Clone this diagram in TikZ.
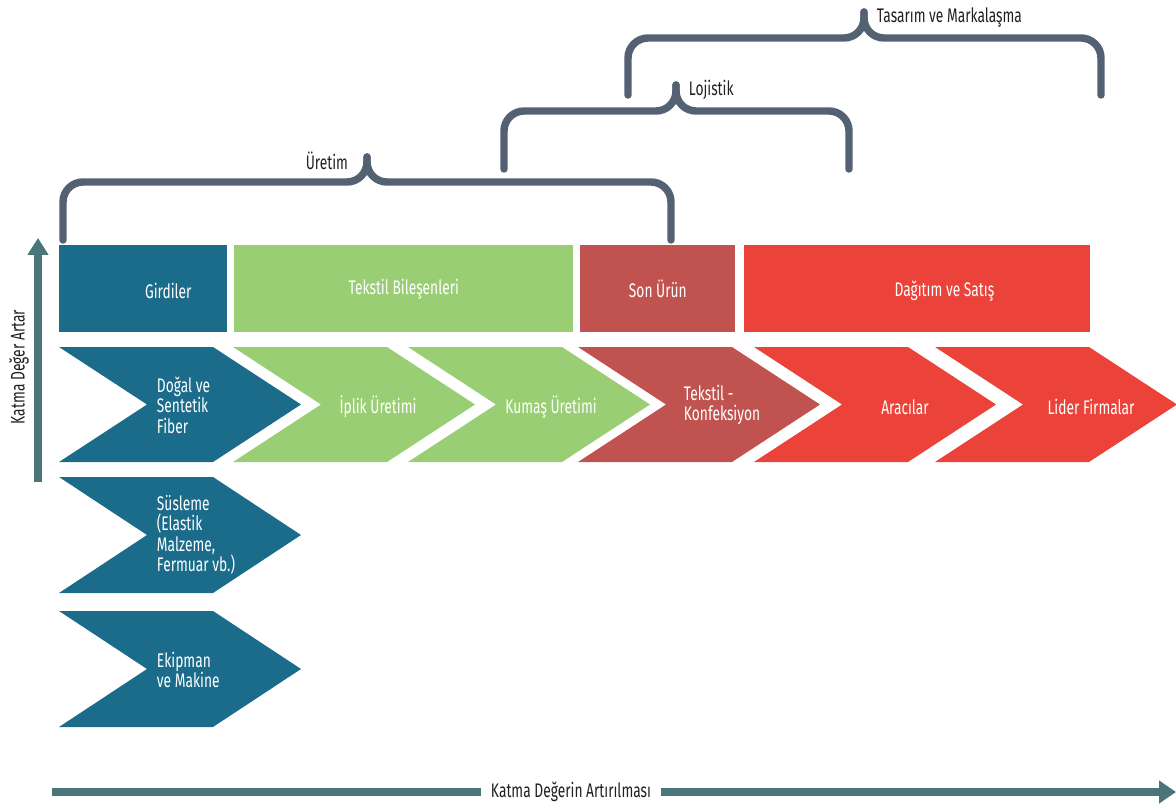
\documentclass[tikz,border=0pt]{standalone}
\usepackage{fontspec}
\setmainfont{Fira Sans}[FakeStretch=0.7]
\usepackage{xcolor}
\usepackage{tikz}
\usetikzlibrary{positioning,arrows.meta}

\definecolor{inputblue}{HTML}{1A6C8A}
\definecolor{compgreen}{HTML}{99CE74}
\definecolor{productred}{HTML}{C0534F}
\definecolor{salesred}{HTML}{EB4339}
\definecolor{braceslate}{HTML}{536173}
\definecolor{axisteal}{HTML}{4A767A}
\definecolor{labeldark}{HTML}{231F20}

\begin{document}
\begin{tikzpicture}[
    x=0.025cm,
    y=-0.025cm,
    node distance=0.16cm,
    font=\fontsize{14}{14.5}\selectfont,
    box/.style={
        anchor=north west,
        inner sep=0pt,
        minimum height=2.175cm,
        text=white
    },
    boxtext/.style={
        text=white
    },
    chevtext/.style={
        text=white,
        align=left
    },
    bracetext/.style={
        text=labeldark
    },
    brace/.style={
        draw=braceslate,
        line width=5.3pt,
        rounded corners=0.5cm,
        line cap=round
    },
    axis/.style={
        draw=axisteal,
        line width=6.2pt
    }
]

\useasboundingbox (0,0) rectangle (1176,808);

% stage boxes
\node[box, fill=inputblue, minimum width=4.2cm,
    label={[boxtext, xshift=0.625cm, yshift=-0.05cm]center:Girdiler}] (girdiler) at (59,245) {};

\node[box, fill=compgreen, minimum width=8.475cm, right=of girdiler] (bilesen) {Tekstil Bileşenleri};

\node[box, fill=productred, minimum width=3.875cm, right=of bilesen] (sonurun) {Son Ürün};

\node[box, fill=salesred, minimum width=8.65cm, right=0.21cm of sonurun,
    label={[boxtext, xshift=0.675cm, yshift=-0.05cm]center:Dağıtım ve Satış}] (dagitim) {};

% chevrons
\fill[inputblue] (59,347) -- ++(154,0) -- ++(88,57.5) -- ++(-88,57.5) -- ++(-154,0) -- ++(88,-57.5) -- cycle;
\fill[inputblue] (59,477) -- ++(154,0) -- ++(88,58) -- ++(-88,58) -- ++(-154,0) -- ++(88,-58) -- cycle;
\fill[inputblue] (59,611) -- ++(154,0) -- ++(88,58) -- ++(-88,58) -- ++(-154,0) -- ++(88,-58) -- cycle;
\fill[compgreen] (233,347) -- ++(154,0) -- ++(88,57.5) -- ++(-88,57.5) -- ++(-154,0) -- ++(88,-57.5) -- cycle;
\fill[compgreen] (408,347) -- ++(154,0) -- ++(88,57.5) -- ++(-88,57.5) -- ++(-154,0) -- ++(88,-57.5) -- cycle;
\fill[productred] (578,347) -- ++(154,0) -- ++(88,57.5) -- ++(-88,57.5) -- ++(-154,0) -- ++(88,-57.5) -- cycle;
\fill[salesred] (754,347) -- ++(154,0) -- ++(88,57.5) -- ++(-88,57.5) -- ++(-154,0) -- ++(88,-57.5) -- cycle;
\fill[salesred] (935,347) -- ++(154,0) -- ++(88,57.5) -- ++(-88,57.5) -- ++(-154,0) -- ++(88,-57.5) -- cycle;

\node[chevtext, anchor=west] (dogal) at (152,405) {Doğal ve\\Sentetik\\Fiber};
\node[chevtext, anchor=west] (susleme) at (152,535) {Süsleme\\(Elastik\\Malzeme,\\Fermuar vb.)};
\node[chevtext, anchor=west] (ekipman) at (152,670) {Ekipman\\ve Makine};
\node[chevtext] (iplik) at (378,407) {İplik Üretimi};
\node[chevtext] (kumas) at (551,407) {Kumaş Üretimi};
\node[chevtext, anchor=west] (konfeksiyon) at (679,405) {Tekstil -\\Konfeksiyon};
\node[chevtext] (aracilar) at (905,407) {Aracılar};
\node[chevtext] (lider) at (1091,407) {Lider Firmalar};

% braces
\draw[brace] (63,240) -- (63,182) -- (367,182) -- (367,157);
\draw[brace] (671,240) -- (671,182) -- (367,182) -- (367,157);
\node[bracetext, anchor=east] (uretim) at (353,161) {Üretim};

\draw[brace] (504,169) -- (504,111) -- (676,111) -- (676,85);
\draw[brace] (849,169) -- (849,111) -- (676,111) -- (676,85);
\node[bracetext, anchor=west] (lojistik) at (684,90) {Lojistik};

\draw[brace] (628,95) -- (628,38) -- (864,38) -- (864,12);
\draw[brace] (1101,95) -- (1101,38) -- (864,38) -- (864,12);
\node[bracetext, anchor=west] (tasarim) at (872,17) {Tasarım ve Markalaşma};

% axes
\coordinate (ybottom) at (38,482);
\coordinate (ytop) at (38,238);
\draw[axis, -{Triangle[length=12pt,width=14.2pt]}] (ybottom) -- (ytop);
\node[bracetext, rotate=90] (artar) at (19,367) {Katma Değer Artar};

\coordinate (xstart) at (52,792);
\coordinate (xend) at (1176,792);
\node[bracetext, inner xsep=0.25cm] (artis) at (571,792) {Katma Değerin Artırılması};
\draw[axis] (xstart) -- (artis.west);
\draw[axis, -{Triangle[length=12pt,width=15.6pt]}] (artis.east) -- (xend);

\end{tikzpicture}
\end{document}
